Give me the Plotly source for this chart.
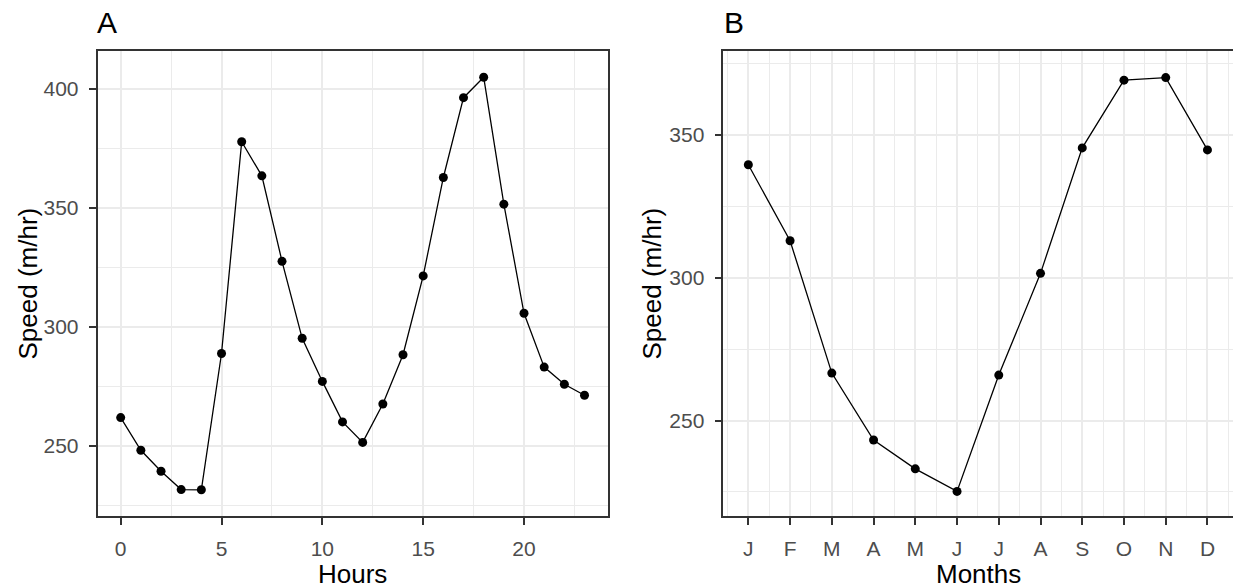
import plotly.graph_objects as go

hours = list(range(24))
speed_hours = [261.9, 248.2, 239.4, 231.7, 231.6, 288.8, 377.7, 363.4, 327.5, 295.2,
               277.1, 260.1, 251.5, 267.6, 288.3, 321.4, 362.7, 396.2, 404.8, 351.5,
               305.7, 283.1, 275.9, 271.3]

months = list(range(1, 13))
month_labels = ["J", "F", "M", "A", "M", "J", "J", "A", "S", "O", "N", "D"]
speed_months = [339.5, 312.9, 266.6, 243.2, 233.1, 225.2, 265.9, 301.5, 345.4, 369.1, 370.0, 344.7]

W, H = 1233, 588
FONT = "Liberation Sans, Arial, sans-serif"
GRID = "#EBEBEB"
BORDER = "#333333"
TICKCOL = "#4D4D4D"

fig = go.Figure()
fig.add_trace(go.Scatter(x=hours, y=speed_hours, mode="lines+markers",
                         line=dict(color="black", width=1.3),
                         marker=dict(color="black", size=9),
                         xaxis="x", yaxis="y", showlegend=False))
fig.add_trace(go.Scatter(x=months, y=speed_months, mode="lines+markers",
                         line=dict(color="black", width=1.3),
                         marker=dict(color="black", size=9),
                         xaxis="x2", yaxis="y2", showlegend=False))

def px_x(p):
    return p / W

def px_y(p):
    return 1 - p / H

ydom = [px_y(516), px_y(51)]

common = dict(showline=True, mirror=True, linecolor=BORDER, linewidth=1.5,
              ticks="outside", ticklen=7, tickwidth=1.5, tickcolor=BORDER,
              showgrid=True, gridcolor=GRID, gridwidth=1.6, zeroline=False,
              tickfont=dict(family=FONT, size=21, color=TICKCOL))

fig.update_layout(
    width=W, height=H, margin=dict(l=0, r=0, t=0, b=0),
    plot_bgcolor="white", paper_bgcolor="white",
    xaxis=dict(domain=[px_x(97.5), px_x(607.7)], range=[-1.15, 24.15],
               tickmode="array", tickvals=[0, 5, 10, 15, 20],
               minor=dict(dtick=2.5, tick0=0, showgrid=True, gridcolor=GRID, gridwidth=0.9),
               anchor="y", ticklabelstandoff=6, **common),
    yaxis=dict(domain=ydom, range=[220.6, 415.8],
               tickmode="array", tickvals=[250, 300, 350, 400],
               minor=dict(dtick=25, tick0=0, showgrid=True, gridcolor=GRID, gridwidth=0.9),
               anchor="x", ticklabelstandoff=6, **common),
    xaxis2=dict(domain=[px_x(723.3), px_x(1232.5)], range=[0.4, 12.6],
                tickmode="array", tickvals=months, ticktext=month_labels,
                minor=dict(dtick=0.5, tick0=0, showgrid=True, gridcolor=GRID, gridwidth=0.9),
                anchor="y2", ticklabelstandoff=6, **common),
    yaxis2=dict(domain=ydom, range=[216.6, 379.3],
                tickmode="array", tickvals=[250, 300, 350],
                minor=dict(dtick=25, tick0=0, showgrid=True, gridcolor=GRID, gridwidth=0.9),
                anchor="x2", ticklabelstandoff=6, **common),
)

def ann(text, x, y, size, xanchor="left", yanchor="middle", angle=0, color="black"):
    fig.add_annotation(text=text, x=px_x(x), y=px_y(y), xref="paper", yref="paper",
                       showarrow=False, xanchor=xanchor, yanchor=yanchor, textangle=angle,
                       font=dict(family=FONT, size=size, color=color))

ann("A", 95, 22, 30)
ann("B", 722, 22, 30)
ann("Hours", 352.6, 574, 26, xanchor="center")
ann("Months", 978, 574, 26, xanchor="center")
ann("Speed (m/hr)", 27, 283.5, 26, xanchor="center", angle=-90)
ann("Speed (m/hr)", 651, 283.5, 26, xanchor="center", angle=-90)

fig.write_html("out.html")
